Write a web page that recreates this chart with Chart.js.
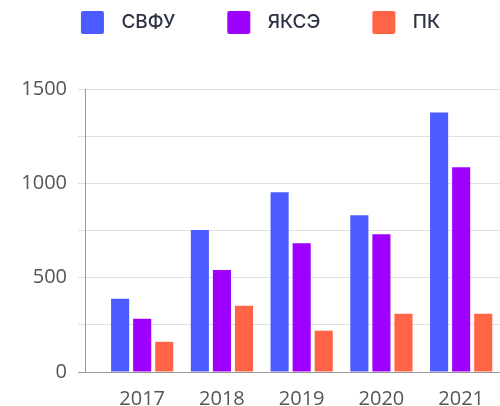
<!DOCTYPE html>
<html>
<head>
<meta charset="utf-8">
<script src="https://cdn.jsdelivr.net/npm/chart.js@4/dist/chart.umd.min.js"></script>
<style>
  html, body { margin: 0; padding: 0; background: #ffffff; }
  #wrap { width: 500px; height: 406px; }
</style>
</head>
<body>
<div id="wrap"><canvas id="c" width="500" height="406"></canvas></div>
<script>
// ---- data ----
const years = [2017, 2018, 2019, 2020, 2021];
const seriesNames = ['СВФУ', 'ЯКСЭ', 'ПК'];
const svfu = [388, 753, 953, 831, 1376];
const yakse = [282, 541, 683, 730, 1085];
const pk = [160, 351, 219, 309, 309];
const yTickLabels = [0, 500, 1000, 1500];

// ---- styles ----
const colors = ['#4a5bff', '#9e00ff', '#ff6446'];
const LEGEND_H = 89;
const LEGEND_DX = -9;

function legendSwatch(color) {
  const c = document.createElement('canvas');
  c.width = 70; c.height = 23;
  const g = c.getContext('2d');
  g.fillStyle = color;
  g.beginPath();
  if (g.roundRect) g.roundRect(39, 0, 23, 23, 2); else g.rect(39, 0, 23, 23);
  g.fill();
  return c;
}
const swatches = colors.map(legendSwatch);

const legendTweak = {
  id: 'legendTweak',
  beforeLayout(chart) {
    const lg = chart.legend;
    if (lg && !lg._patched) {
      const f = lg.fit;
      lg.fit = function () { f.call(this); this.height = LEGEND_H; };
      lg._patched = true;
    }
  },
  afterLayout(chart) {
    const lg = chart.legend;
    if (lg) { lg.left += LEGEND_DX; lg.right += LEGEND_DX; }
  }
};

const datasets = [svfu, yakse, pk].map((d, i) => ({
  label: seriesNames[i],
  data: d,
  backgroundColor: colors[i],
  borderWidth: 0,
  categoryPercentage: 0.83,
  barPercentage: 0.82
}));

new Chart(document.getElementById('c'), {
  type: 'bar',
  data: { labels: years, datasets },
  plugins: [legendTweak],
  options: {
    responsive: false,
    animation: false,
    devicePixelRatio: 1,
    layout: { padding: 0 },
    plugins: {
      tooltip: { enabled: false },
      legend: {
        position: 'top',
        align: 'center',
        labels: {
          usePointStyle: true,
          pointStyleWidth: 70,
          padding: 13,
          color: '#2d3345',
          font: { family: 'Inter', size: 19, weight: '500' },
          generateLabels(chart) {
            const items = Chart.defaults.plugins.legend.labels.generateLabels(chart);
            items.forEach((it, i) => { it.pointStyle = swatches[i]; it.lineWidth = 0; });
            return items;
          }
        }
      }
    },
    scales: {
      x: {
        type: 'linear',
        offset: false,
        min: 2016.283,
        max: 2021.487,
        grid: { display: false, drawTicks: false, offset: false },
        border: { display: true, color: '#9a9a9a', width: 1 },
        ticks: {
          stepSize: 1,
          includeBounds: false,
          padding: 15,
          color: '#555555',
          font: { family: 'Open Sans', size: 20 },
          callback: (v) => years.includes(v) ? String(v) : ''
        },
        afterFit(s) { s.height = 34; s.paddingLeft = 0; s.paddingRight = 0; }
      },
      y: {
        min: 0,
        max: 1500,
        grid: {
          color: (ctx) => (ctx.tick && ctx.tick.value === 0) ? '#9a9a9a' : '#e0e0e0',
          tickColor: (ctx) => (ctx.tick && ctx.tick.value === 0) ? '#9a9a9a' : '#e0e0e0',
          lineWidth: 1,
          drawTicks: true,
          tickLength: 7
        },
        border: { display: true, color: '#9a9a9a', width: 1 },
        ticks: {
          stepSize: 250,
          padding: 11,
          color: '#555555',
          font: { family: 'Open Sans', size: 20 },
          callback: (v) => yTickLabels.includes(v) ? String(v) : ''
        },
        afterFit(s) { s.width = 85; }
      }
    }
  }
});
</script>
</body>
</html>
